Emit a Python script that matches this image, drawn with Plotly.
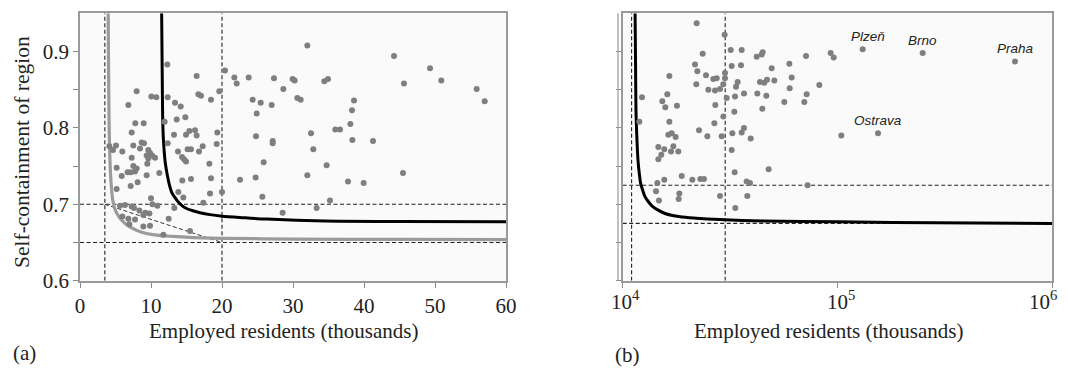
import math
import plotly.graph_objects as go

# ---------------- data: panel (a) ----------------
a_x = [12.30, 16.43, 7.98, 10.05, 10.75, 12.35, 16.67, 17.04, 6.81, 13.38, 14.18, 14.84, 11.92, 13.62,
       7.79, 8.97, 7.28, 13.24, 14.93, 15.40, 16.20, 16.43, 12.35, 4.13, 5.07, 4.65, 5.96, 7.51, 8.69,
       9.01, 8.45, 9.62, 9.86, 9.39, 10.14, 10.56, 9.62, 7.28, 7.51, 7.98, 7.75, 13.80, 14.37, 14.65,
       14.93, 15.16, 15.63, 16.76, 17.28, 5.16, 5.87, 6.71, 7.14, 9.48, 9.39, 11.17, 5.16, 7.14, 8.12,
       14.41, 15.63, 13.85, 14.55, 10.00, 10.19, 10.89, 17.37, 5.63, 6.34, 7.28, 7.61, 8.36, 9.20, 9.77,
       8.92, 13.29, 5.96, 6.81, 7.75, 8.92, 9.86, 6.95, 12.49, 11.74, 15.49,
       32.02, 20.42, 21.74, 22.07, 23.76, 27.32, 29.95, 30.23, 19.62, 18.45, 24.32, 25.45, 27.00, 24.88,
       28.64, 30.61, 31.08, 19.34, 19.25, 24.79, 27.14, 27.14, 32.54, 32.86, 18.22, 18.45, 25.87, 22.54,
       24.74, 32.02, 18.31, 20.00, 25.68, 33.33, 28.54,
       34.41, 34.93, 44.23, 49.30, 45.63, 50.89, 55.87, 57.00, 38.59, 38.31, 38.08, 35.96, 36.62, 38.36,
       41.27, 34.74, 37.75, 39.95, 45.49, 35.21]
a_y = [0.883, 0.868, 0.848, 0.841, 0.840, 0.840, 0.844, 0.842, 0.830, 0.833, 0.828, 0.814, 0.808, 0.811,
       0.806, 0.806, 0.794, 0.791, 0.791, 0.796, 0.797, 0.790, 0.780, 0.776, 0.777, 0.771, 0.769, 0.777,
       0.781, 0.780, 0.773, 0.771, 0.767, 0.764, 0.764, 0.761, 0.760, 0.761, 0.750, 0.747, 0.743, 0.769,
       0.762, 0.759, 0.756, 0.772, 0.772, 0.769, 0.776, 0.748, 0.737, 0.742, 0.742, 0.753, 0.738, 0.741,
       0.720, 0.724, 0.729, 0.731, 0.733, 0.716, 0.709, 0.708, 0.700, 0.698, 0.702, 0.698, 0.699, 0.697,
       0.695, 0.692, 0.689, 0.688, 0.686, 0.695, 0.684, 0.681, 0.680, 0.671, 0.672, 0.674, 0.681, 0.660,
       0.665,
       0.908, 0.875, 0.866, 0.858, 0.866, 0.865, 0.864, 0.862, 0.848, 0.837, 0.837, 0.833, 0.830, 0.819,
       0.851, 0.839, 0.837, 0.794, 0.779, 0.789, 0.783, 0.780, 0.793, 0.772, 0.753, 0.734, 0.755, 0.732,
       0.735, 0.738, 0.714, 0.716, 0.710, 0.695, 0.689,
       0.861, 0.864, 0.894, 0.878, 0.858, 0.862, 0.851, 0.835, 0.836, 0.823, 0.805, 0.798, 0.798, 0.784,
       0.783, 0.751, 0.730, 0.728, 0.741, 0.705]

# curves
a_gray_x = [3.97, 4.02, 4.08, 4.15, 4.25, 4.4, 4.6, 4.9, 5.4, 6.0, 6.6, 7.5, 8.7, 10.5, 13, 16, 20, 30, 45, 60]
a_gray_y = [0.95, 0.88, 0.82, 0.78, 0.75, 0.725, 0.706, 0.694, 0.685, 0.678, 0.673, 0.668, 0.6635, 0.660,
            0.658, 0.6565, 0.6555, 0.6545, 0.654, 0.6538]
a_black_x = [11.5, 11.58, 11.64, 11.72, 11.83, 12.0, 12.3, 12.6, 12.9, 13.35, 13.85, 14.4, 15.0, 15.9, 16.9,
             18.3, 20, 23, 26.3, 34.5, 45, 60]
a_black_y = [0.95, 0.87, 0.817, 0.79, 0.773, 0.755, 0.738, 0.725, 0.716, 0.709, 0.703, 0.698, 0.6945, 0.6915,
             0.689, 0.6865, 0.6845, 0.6825, 0.6806, 0.678, 0.6775, 0.677]
a_vlines = [3.5, 20]
a_hlines = [0.70, 0.65]
a_diag_x = [3.5, 20]
a_diag_y = [0.70, 0.65]

# ---------------- data: panel (b) ----------------
b_x = [22100, 29830, 23570, 21710, 22260, 24430, 16490, 22010, 26420, 27390, 29940, 29940, 29410, 25050,
       26900, 28380, 12300, 15290, 16130, 15790, 17890, 26990, 30480, 11950, 16490, 26710, 29410, 22660,
       24780, 16310, 16900, 17640, 28890, 14650, 15620, 17210, 16780, 18150, 15130, 14650, 18820, 15620,
       14500, 21100, 22980, 23900, 14290, 14750, 18350, 18220, 28380,
       31830, 35800, 42050, 44360, 44830, 71340, 92940, 95980, 32170, 35530, 49380, 59690, 34290, 33690,
       43570, 45640, 46960, 50810, 61190, 59900, 82310, 36700, 33330, 42350, 46630, 71850, 56550, 70070,
       44670, 33090, 36700, 35800, 32400, 39430, 32170, 104200, 33210, 47810, 37760, 39140, 72620, 38030,
       33450]
b_y = [0.937, 0.922, 0.897, 0.883, 0.874, 0.869, 0.868, 0.857, 0.864, 0.865, 0.872, 0.865, 0.857, 0.850,
       0.849, 0.851, 0.840, 0.835, 0.844, 0.827, 0.829, 0.830, 0.839, 0.808, 0.808, 0.806, 0.815, 0.797,
       0.789, 0.791, 0.793, 0.788, 0.789, 0.775, 0.772, 0.776, 0.769, 0.769, 0.765, 0.759, 0.737, 0.732,
       0.728, 0.732, 0.733, 0.733, 0.717, 0.705, 0.714, 0.707, 0.711,
       0.902, 0.902, 0.893, 0.896, 0.899, 0.894, 0.898, 0.892, 0.881, 0.882, 0.878, 0.884, 0.860, 0.854,
       0.860, 0.859, 0.863, 0.862, 0.866, 0.852, 0.856, 0.845, 0.841, 0.845, 0.842, 0.844, 0.834, 0.834,
       0.825, 0.821, 0.800, 0.794, 0.793, 0.786, 0.771, 0.790, 0.742, 0.746, 0.730, 0.728, 0.725, 0.711,
       0.695]
cities = ["Plzeň", "Brno", "Praha", "Ostrava"]
city_x = [131000, 249200, 670500, 154400]
city_y = [0.903, 0.898, 0.887, 0.793]
city_dx = [5, 0, 0, 0]

b_black_x = [11420, 11480, 11530, 11650, 11780, 11950, 12130, 12400, 12700, 13200, 13790, 14700, 15740,
             18490, 22000, 28380, 45000, 100000, 181900, 1000000]
b_black_y = [0.95, 0.88, 0.823, 0.785, 0.758, 0.740, 0.727, 0.718, 0.710, 0.703, 0.697, 0.692, 0.688,
             0.6837, 0.6818, 0.680, 0.678, 0.677, 0.6763, 0.675]
b_vlines = [11000, 30000]
b_hlines = [0.675, 0.725]

y_ticks = [0.6, 0.65, 0.7, 0.75, 0.8, 0.85, 0.9]
y_ticktext = ["0.6", "", "0.7", "", "0.8", "", "0.9"]
a_xticks = [0, 10, 20, 30, 40, 50, 60]
b_xticks = [1e4, 1e5, 1e6]
b_xticktext = ["10<sup>4</sup>", "10<sup>5</sup>", "10<sup>6</sup>"]
b_xtick_anchor = ["center", "center", "right"]
b_xtick_shift = [3, 3, 6.5]

# ---------------- figure ----------------
OFF = 8                      # default page body margin
W, H = 1068 - OFF, 373 - OFF
SERIF = "Liberation Serif, Times New Roman, serif"
DOT = "#7f7f7f"
DASH = dict(color="#222222", width=1.1, dash="4px,2.5px")


def px(xp, yp):
    """screen pixel (in the 1068x373 window) -> paper coords"""
    return (xp - OFF) / W, (H - (yp - OFF)) / H


fig = go.Figure()

# panel (a) reference lines
for v in a_vlines:
    fig.add_trace(go.Scatter(x=[v, v], y=[0.6, 0.95], mode="lines", line=DASH, xaxis="x", yaxis="y",
                             hoverinfo="skip"))
for h in a_hlines:
    fig.add_trace(go.Scatter(x=[0, 60], y=[h, h], mode="lines", line=DASH, xaxis="x", yaxis="y",
                             hoverinfo="skip"))
fig.add_trace(go.Scatter(x=a_diag_x, y=a_diag_y, mode="lines", line=dict(color="#333", width=1, dash="4px,2.5px"),
                         xaxis="x", yaxis="y", hoverinfo="skip"))
fig.add_trace(go.Scatter(x=a_gray_x, y=a_gray_y, mode="lines",
                         line=dict(color="#9b9b9b", width=3.2, shape="spline", smoothing=0.8),
                         xaxis="x", yaxis="y"))
fig.add_trace(go.Scatter(x=a_black_x, y=a_black_y, mode="lines",
                         line=dict(color="#000000", width=3, shape="spline", smoothing=0.8),
                         xaxis="x", yaxis="y"))
fig.add_trace(go.Scatter(x=a_x, y=a_y, mode="markers", marker=dict(color=DOT, size=6),
                         xaxis="x", yaxis="y"))

# panel (b) reference lines
for v in b_vlines:
    fig.add_trace(go.Scatter(x=[v, v], y=[0.6, 0.95], mode="lines", line=DASH, xaxis="x2", yaxis="y2",
                             hoverinfo="skip"))
for h in b_hlines:
    fig.add_trace(go.Scatter(x=[1e4, 1e6], y=[h, h], mode="lines", line=DASH, xaxis="x2", yaxis="y2",
                             hoverinfo="skip"))
fig.add_trace(go.Scatter(x=b_black_x, y=b_black_y, mode="lines",
                         line=dict(color="#000000", width=3, shape="spline", smoothing=0.8),
                         xaxis="x2", yaxis="y2"))
fig.add_trace(go.Scatter(x=b_x + city_x, y=b_y + city_y, mode="markers", marker=dict(color=DOT, size=6),
                         xaxis="x2", yaxis="y2"))

annotations = []
for name, cx, cy, dx in zip(cities, city_x, city_y, city_dx):
    annotations.append(dict(x=math.log10(cx), y=cy, xref="x2", yref="y2", text="<i>" + name + "</i>",
                            showarrow=False, yshift=12.5, xshift=dx, xanchor="center", yanchor="middle",
                            font=dict(family="Liberation Sans, Arial, sans-serif", size=13.5, color="#222")))

# tick labels of the log axis, drawn as text at the tick positions
_, ytl = px(0, 300)
for tv, tt, anc, sh in zip(b_xticks, b_xticktext, b_xtick_anchor, b_xtick_shift):
    annotations.append(dict(x=math.log10(tv), y=ytl, xref="x2", yref="paper", text=tt, showarrow=False,
                            xanchor=anc, yanchor="middle", xshift=sh,
                            font=dict(family=SERIF, size=21, color="#222")))


def label(xp, yp, text, size=21, angle=0):
    x, y = px(xp, yp)
    annotations.append(dict(x=x, y=y, xref="paper", yref="paper", text=text, textangle=angle,
                            showarrow=False, xanchor="center", yanchor="middle",
                            font=dict(family=SERIF, size=size, color="#222")))


label(283, 331, "Employed residents (thousands)")
label(828, 331, "Employed residents (thousands)")
label(22, 152, "Self-containment of region", size=21.5, angle=-90)
label(24, 353, "(a)")
label(627, 355, "(b)")

x1a, _ = px(80, 0)
x1b, _ = px(506, 0)
x2a, _ = px(622.7, 0)
x2b, _ = px(1052.3, 0)
_, ybot = px(0, 280.7)
_, ytop = px(0, 13.3)
xg, _ = px(618, 0)

axis_common = dict(showline=True, linecolor="#9a9a9a", linewidth=1.6, mirror=True, showgrid=False,
                   zeroline=False, ticks="outside", ticklen=5, tickcolor="#8a8a8a", tickwidth=1.2,
                   automargin=False,
                   tickfont=dict(family=SERIF, size=21, color="#222"))

shapes = [dict(type="line", xref="paper", yref="paper", x0=xg, x1=xg, y0=ybot, y1=ytop,
               line=dict(color="#a0a0a0", width=1.3))]

fig.update_layout(
    width=W, height=H, margin=dict(l=0, r=0, t=0, b=0, pad=0, autoexpand=False), showlegend=False,
    paper_bgcolor="white", plot_bgcolor="#fafafa",
    xaxis=dict(domain=[x1a, x1b], range=[0, 60], tickvals=a_xticks, anchor="y", **axis_common),
    yaxis=dict(domain=[ybot, ytop], range=[0.6, 0.95], tickvals=y_ticks, ticktext=y_ticktext, anchor="x",
               **axis_common),
    xaxis2=dict(domain=[x2a, x2b], type="log", range=[4, 6], tickvals=b_xticks, showticklabels=False,
                anchor="y2", **axis_common),
    yaxis2=dict(domain=[ybot, ytop], range=[0.6, 0.95], tickvals=y_ticks, showticklabels=False, anchor="x2",
                **axis_common),
    annotations=annotations, shapes=shapes,
)

fig.write_html("out.html")
